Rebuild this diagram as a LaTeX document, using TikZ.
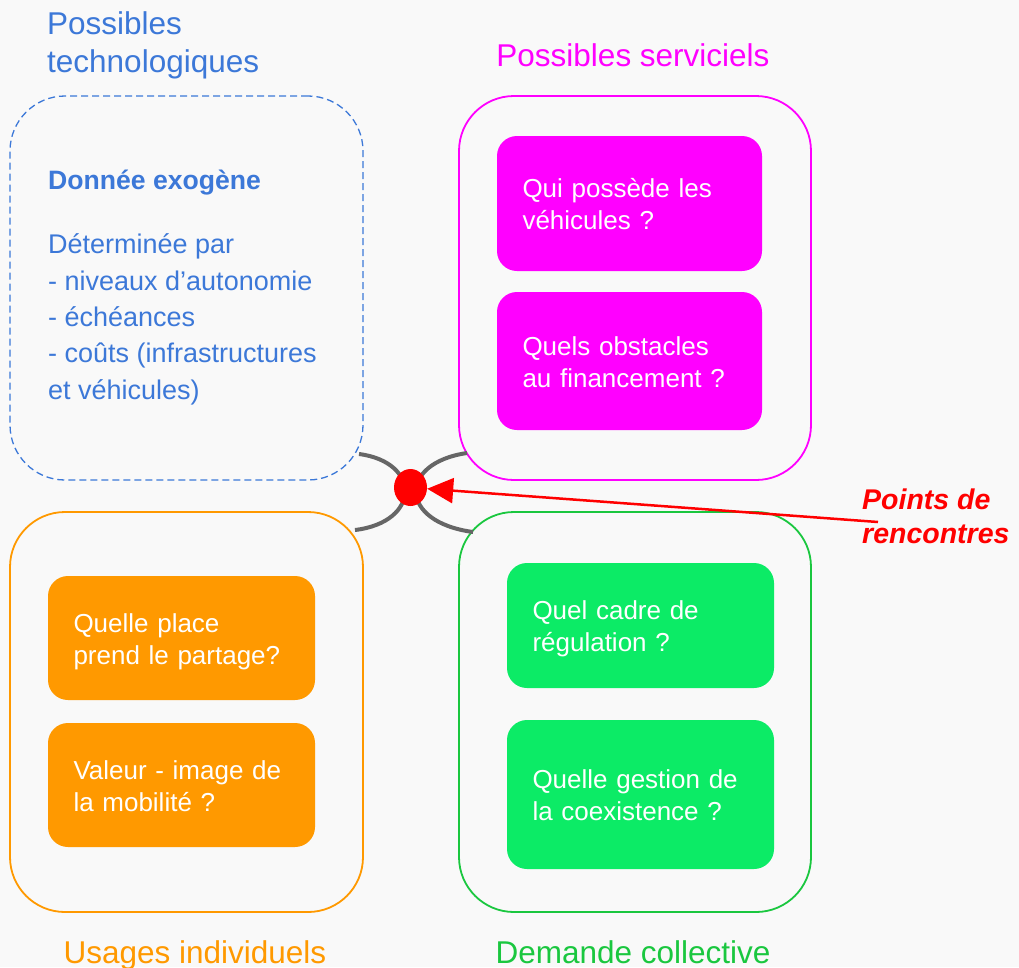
\documentclass[tikz,border=0pt]{standalone}
\usepackage{fontspec}
\setmainfont{Liberation Sans}
\usetikzlibrary{arrows.meta,shapes.geometric}
\definecolor{bg}{HTML}{F9F9F9}
\definecolor{tblue}{HTML}{3C78D8}
\definecolor{mag}{HTML}{FF00FF}
\definecolor{org}{HTML}{FF9900}
\definecolor{grnline}{HTML}{1AC73F}
\definecolor{grnfill}{HTML}{0CEB66}
\definecolor{curvegray}{HTML}{666666}
\definecolor{rred}{HTML}{FF0000}
\newcommand\topstr{\rule{0pt}{26pt}}
\newcommand\botstr{\rule[-6pt]{0pt}{6pt}}
\tikzset{
  outerbox/.style={rectangle, rounded corners=55pt, line width=1.8pt, inner sep=0pt, outer sep=0pt},
  innerbox/.style={rectangle, rounded corners=20pt, inner xsep=25.5pt, inner ysep=0pt, outer sep=0pt,
    text=white, align=left, font=\fontsize{26}{32}\selectfont},
  title/.style={inner sep=0pt, font=\fontsize{31.5}{38}\selectfont},
  blabel/.style={inner sep=0pt, text=tblue, align=left, font=\fontsize{27}{36.3}\selectfont},
  arc/.style={draw=curvegray, line width=4pt},
}
\begin{document}
\begin{tikzpicture}[x=1pt,y=-1pt]
\fill[bg] (0,0) rectangle (1019,967);
\useasboundingbox (0,0) rectangle (1019,967);

% outer boxes
\node[outerbox, draw=tblue, line width=1.3pt, dash pattern=on 7pt off 4pt, minimum width=353, minimum height=384] (tech) at (186.5,288) {};
\node[outerbox, draw=mag, minimum width=352, minimum height=384] (serv) at (635,288) {};
\node[outerbox, draw=org, minimum width=353, minimum height=400] (usage) at (186.5,712) {};
\node[outerbox, draw=grnline, minimum width=352, minimum height=400] (dem) at (635,712) {};

% titles (base anchor = last line baseline)
\node[title, text=tblue, align=left, anchor=base west] (ttech) at (47,72) {Possibles\\technologiques};
\node[title, text=mag, anchor=base] (tserv) at (633,66) {Possibles serviciels};
\node[title, text=org, anchor=base] (tusage) at (195,963) {Usages individuels};
\node[title, text=grnline, anchor=base] (tdem) at (633,963) {Demande collective};

% blue body
\node[blabel, anchor=base west] (btxt) at (48,399) {{\fontsize{26.6}{36.3}\selectfont\bfseries Donnée exogène}\\[27.7pt]Déterminée par\\- niveaux d’autonomie\\- échéances\\- coûts (infrastructures\\et véhicules)};

% inner boxes
\node[innerbox, fill=mag, text width=214pt, minimum height=135] (m1) at (629.5,203.5) {\topstr Qui possède les\\véhicules ?\botstr};
\node[innerbox, fill=mag, text width=214pt, minimum height=138] (m2) at (629.5,361) {\topstr Quels obstacles\\au financement ?\botstr};
\node[innerbox, fill=org, text width=216pt, minimum height=124] (o1) at (181.5,638) {\topstr Quelle place\\prend le partage?\botstr};
\node[innerbox, fill=org, text width=216pt, minimum height=124] (o2) at (181.5,785) {\topstr Valeur - image de\\la mobilité ?\botstr};
\node[innerbox, fill=grnfill, text width=216pt, minimum height=125] (g1) at (640.5,625.5) {\topstr Quel cadre de\\régulation ?\botstr};
\node[innerbox, fill=grnfill, text width=216pt, minimum height=149] (g2) at (640.5,794.5) {\topstr Quelle gestion de\\la coexistence ?\botstr};

% meeting point
\coordinate (la) at (359,454);
\coordinate (lb) at (355,530);
\coordinate (ra) at (467,453);
\coordinate (rb) at (473,532);
\draw[arc] (la) .. controls (421,462) and (421,522) .. (lb);
\draw[arc] (ra) .. controls (398,463) and (398,522) .. (rb);
\node[ellipse, fill=rred, minimum width=33, minimum height=37, inner sep=0pt] (dot) at (410.5,487.5) {};
\coordinate (astart) at (878,522);
\draw[rred, line width=2.5pt, -{Triangle[length=26pt,width=25pt]}] (astart) -- (dot);
\node[inner sep=0pt, anchor=base west, align=left, text=rred, font=\fontsize{28.5}{34}\selectfont\bfseries\itshape] (pts) at (862,543) {Points de\\rencontres};
\end{tikzpicture}
\end{document}
